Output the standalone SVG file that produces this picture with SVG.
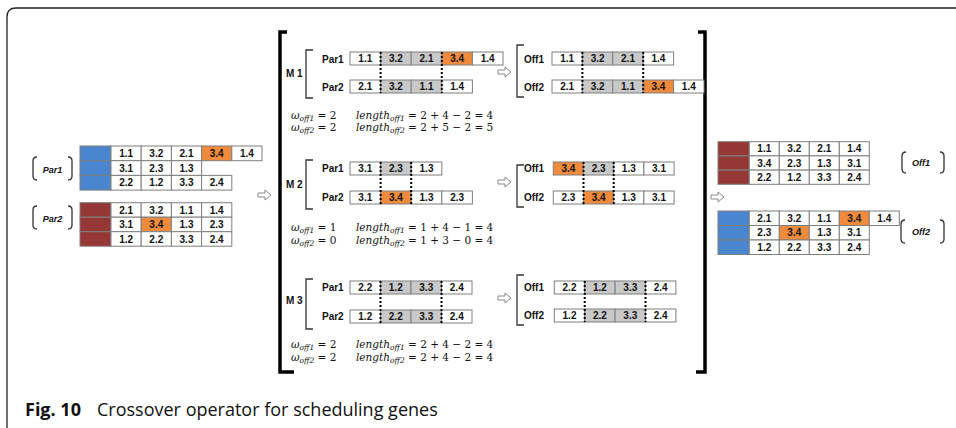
<svg xmlns="http://www.w3.org/2000/svg" width="956" height="428" viewBox="0 0 956 428">
<style>
.c{fill:#fff;stroke:#7f7f7f;stroke-width:1}
.g{fill:#c9c9c9;stroke:#7f7f7f;stroke-width:1}
.o{fill:#f08a3c;stroke:#7f7f7f;stroke-width:1}
.b{fill:#4a86cf;stroke:#7f7f7f;stroke-width:1}
.r{fill:#953735;stroke:#7f7f7f;stroke-width:1}
.t{font-family:"Liberation Sans",Arial,sans-serif;font-weight:bold;font-size:10px;text-anchor:middle;fill:#111}
.l{font-family:"Liberation Sans",Arial,sans-serif;font-weight:bold;font-size:10px;fill:#111}
.il{font-family:"Liberation Sans",Arial,sans-serif;font-weight:bold;font-style:italic;font-size:9px;text-anchor:middle;fill:#111}
.dot{stroke:#000;stroke-width:2;stroke-dasharray:2 2;fill:none}
.br{fill:none;stroke:#333;stroke-width:1.3}
.big{fill:none;stroke:#000;stroke-width:3.5}
.arr{fill:#fff;stroke:#8a8a8a;stroke-width:1}
.f{font-family:"DejaVu Serif","Liberation Serif",serif;font-size:10.5px;fill:#111}
.fi{font-style:italic}
.sub{font-size:7.5px;font-style:italic}
.cap{font-family:"Open Sans","Noto Sans",sans-serif;font-size:18px;fill:#111}
</style>
<defs>
<path id="ha" d="M0,-2 h7 v-3 l6,5 l-6,5 v-3 h-7 z"/>
</defs>

<path d="M7,440 V17 Q7,8 16,8 H960" fill="none" stroke="#222" stroke-width="1.3"/>

<g id="brackets-main">
<path class="big" d="M287,32 H280 V372 H294"/>
<path class="big" d="M698,32 H705 V372 H696"/>
</g>

<!-- Left parents -->
<g id="par1-left">
<path class="br" d="M37,157 Q33,157 33,161 V176 Q33,180 37,180"/>
<path class="br" d="M68,157 Q72,157 72,161 V176 Q72,180 68,180"/>
<text class="il" x="52.5" y="172.5">Par1</text>
<rect class="b" x="80" y="146" width="31" height="14.7"/>
<rect class="b" x="80" y="160.7" width="31" height="14.7"/>
<rect class="b" x="80" y="175.4" width="31" height="14.7"/>
<rect class="c" x="111" y="146" width="30.2" height="14.7"/><text class="t" x="126.1" y="157">1.1</text>
<rect class="c" x="141.2" y="146" width="30.2" height="14.7"/><text class="t" x="156.3" y="157">3.2</text>
<rect class="c" x="171.4" y="146" width="30.2" height="14.7"/><text class="t" x="186.5" y="157">2.1</text>
<rect class="o" x="201.6" y="146" width="30.2" height="14.7"/><text class="t" x="216.7" y="157">3.4</text>
<rect class="c" x="231.8" y="146" width="30.2" height="14.7"/><text class="t" x="246.9" y="157">1.4</text>
<rect class="c" x="111" y="160.7" width="30.2" height="14.7"/><text class="t" x="126.1" y="171.7">3.1</text>
<rect class="c" x="141.2" y="160.7" width="30.2" height="14.7"/><text class="t" x="156.3" y="171.7">2.3</text>
<rect class="c" x="171.4" y="160.7" width="30.2" height="14.7"/><text class="t" x="186.5" y="171.7">1.3</text>
<rect class="c" x="111" y="175.4" width="30.2" height="14.7"/><text class="t" x="126.1" y="186.4">2.2</text>
<rect class="c" x="141.2" y="175.4" width="30.2" height="14.7"/><text class="t" x="156.3" y="186.4">1.2</text>
<rect class="c" x="171.4" y="175.4" width="30.2" height="14.7"/><text class="t" x="186.5" y="186.4">3.3</text>
<rect class="c" x="201.6" y="175.4" width="30.2" height="14.7"/><text class="t" x="216.7" y="186.4">2.4</text>
</g>

<g id="par2-left">
<path class="br" d="M37,206 Q33,206 33,210 V225 Q33,229 37,229"/>
<path class="br" d="M68,206 Q72,206 72,210 V225 Q72,229 68,229"/>
<text class="il" x="52.5" y="221.5">Par2</text>
<rect class="r" x="80" y="202.7" width="31" height="14.5"/>
<rect class="r" x="80" y="217.2" width="31" height="14.5"/>
<rect class="r" x="80" y="231.7" width="31" height="14.5"/>
<rect class="c" x="111" y="202.7" width="30.2" height="14.5"/><text class="t" x="126.1" y="213.6">2.1</text>
<rect class="c" x="141.2" y="202.7" width="30.2" height="14.5"/><text class="t" x="156.3" y="213.6">3.2</text>
<rect class="c" x="171.4" y="202.7" width="30.2" height="14.5"/><text class="t" x="186.5" y="213.6">1.1</text>
<rect class="c" x="201.6" y="202.7" width="30.2" height="14.5"/><text class="t" x="216.7" y="213.6">1.4</text>
<rect class="c" x="111" y="217.2" width="30.2" height="14.5"/><text class="t" x="126.1" y="228.1">3.1</text>
<rect class="o" x="141.2" y="217.2" width="30.2" height="14.5"/><text class="t" x="156.3" y="228.1">3.4</text>
<rect class="c" x="171.4" y="217.2" width="30.2" height="14.5"/><text class="t" x="186.5" y="228.1">1.3</text>
<rect class="c" x="201.6" y="217.2" width="30.2" height="14.5"/><text class="t" x="216.7" y="228.1">2.3</text>
<rect class="c" x="111" y="231.7" width="30.2" height="14.5"/><text class="t" x="126.1" y="242.6">1.2</text>
<rect class="c" x="141.2" y="231.7" width="30.2" height="14.5"/><text class="t" x="156.3" y="242.6">2.2</text>
<rect class="c" x="171.4" y="231.7" width="30.2" height="14.5"/><text class="t" x="186.5" y="242.6">3.3</text>
<rect class="c" x="201.6" y="231.7" width="30.2" height="14.5"/><text class="t" x="216.7" y="242.6">2.4</text>
</g>

<!-- M1 -->
<g id="m1-parents">
<text class="l" x="286" y="76.5">M 1</text>
<path class="br" d="M313,50 H306 V98 H313"/>
<text class="l" x="322" y="62.5">Par1</text>
<text class="l" x="322" y="90.5">Par2</text>
<rect class="c" x="350" y="52" width="30.6" height="13"/><text class="t" x="365.3" y="62">1.1</text>
<rect class="g" x="380.6" y="52" width="30.6" height="13"/><text class="t" x="395.9" y="62">3.2</text>
<rect class="g" x="411.2" y="52" width="30.6" height="13"/><text class="t" x="426.5" y="62">2.1</text>
<rect class="o" x="441.8" y="52" width="30.6" height="13"/><text class="t" x="457.1" y="62">3.4</text>
<rect class="c" x="472.4" y="52" width="30.6" height="13"/><text class="t" x="487.7" y="62">1.4</text>
<rect class="c" x="350" y="80" width="30.6" height="13"/><text class="t" x="365.3" y="90">2.1</text>
<rect class="g" x="380.6" y="80" width="30.6" height="13"/><text class="t" x="395.9" y="90">3.2</text>
<rect class="g" x="411.2" y="80" width="30.6" height="13"/><text class="t" x="426.5" y="90">1.1</text>
<rect class="c" x="441.8" y="80" width="30.6" height="13"/><text class="t" x="457.1" y="90">1.4</text>
<text class="f" x="291" y="119"><tspan class="fi">ω</tspan><tspan class="sub" dy="1.5">off1</tspan><tspan dy="-1.5"> = 2</tspan></text>
<text class="f" x="356" y="119"><tspan class="fi">length</tspan><tspan class="sub" dy="1.5">off1</tspan><tspan dy="-1.5"> = 2 + 4 − 2 = 4</tspan></text>
<text class="f" x="291" y="131"><tspan class="fi">ω</tspan><tspan class="sub" dy="1.5">off2</tspan><tspan dy="-1.5"> = 2</tspan></text>
<text class="f" x="356" y="131"><tspan class="fi">length</tspan><tspan class="sub" dy="1.5">off2</tspan><tspan dy="-1.5"> = 2 + 5 − 2 = 5</tspan></text>
</g>
<g id="m1-offspring">
<path class="br" d="M524,45 H517 V97 H524"/>
<text class="l" x="524" y="62.5">Off1</text>
<text class="l" x="524" y="90.5">Off2</text>
<rect class="c" x="552" y="52" width="30.4" height="13"/><text class="t" x="567.2" y="62">1.1</text>
<rect class="g" x="582.4" y="52" width="30.4" height="13"/><text class="t" x="597.6" y="62">3.2</text>
<rect class="g" x="612.8" y="52" width="30.4" height="13"/><text class="t" x="628" y="62">2.1</text>
<rect class="c" x="643.2" y="52" width="30.4" height="13"/><text class="t" x="658.4" y="62">1.4</text>
<rect class="c" x="552" y="80" width="30.4" height="13"/><text class="t" x="567.2" y="90">2.1</text>
<rect class="g" x="582.4" y="80" width="30.4" height="13"/><text class="t" x="597.6" y="90">3.2</text>
<rect class="g" x="612.8" y="80" width="30.4" height="13"/><text class="t" x="628" y="90">1.1</text>
<rect class="o" x="643.2" y="80" width="30.4" height="13"/><text class="t" x="658.4" y="90">3.4</text>
<rect class="c" x="673.6" y="80" width="30.4" height="13"/><text class="t" x="688.8" y="90">1.4</text>
</g>

<!-- M2 -->
<g id="m2-parents">
<text class="l" x="286" y="187.5">M 2</text>
<path class="br" d="M313,160 H306 V209 H313"/>
<text class="l" x="322" y="172">Par1</text>
<text class="l" x="322" y="201">Par2</text>
<rect class="c" x="350" y="162" width="30.6" height="13"/><text class="t" x="365.3" y="172">3.1</text>
<rect class="g" x="380.6" y="162" width="30.6" height="13"/><text class="t" x="395.9" y="172">2.3</text>
<rect class="c" x="411.2" y="162" width="30.6" height="13"/><text class="t" x="426.5" y="172">1.3</text>
<rect class="c" x="350" y="191" width="30.6" height="13"/><text class="t" x="365.3" y="201">3.1</text>
<rect class="o" x="380.6" y="191" width="30.6" height="13"/><text class="t" x="395.9" y="201">3.4</text>
<rect class="c" x="411.2" y="191" width="30.6" height="13"/><text class="t" x="426.5" y="201">1.3</text>
<rect class="c" x="441.8" y="191" width="30.6" height="13"/><text class="t" x="457.1" y="201">2.3</text>
<text class="f" x="291" y="231"><tspan class="fi">ω</tspan><tspan class="sub" dy="1.5">off1</tspan><tspan dy="-1.5"> = 1</tspan></text>
<text class="f" x="356" y="231"><tspan class="fi">length</tspan><tspan class="sub" dy="1.5">off1</tspan><tspan dy="-1.5"> = 1 + 4 − 1 = 4</tspan></text>
<text class="f" x="291" y="244"><tspan class="fi">ω</tspan><tspan class="sub" dy="1.5">off2</tspan><tspan dy="-1.5"> = 0</tspan></text>
<text class="f" x="356" y="244"><tspan class="fi">length</tspan><tspan class="sub" dy="1.5">off2</tspan><tspan dy="-1.5"> = 1 + 3 − 0 = 4</tspan></text>
</g>
<g id="m2-offspring">
<path class="br" d="M524,165 H517 V207 H524"/>
<text class="l" x="524" y="172">Off1</text>
<text class="l" x="524" y="201">Off2</text>
<rect class="o" x="553.3" y="162" width="30.2" height="13"/><text class="t" x="568.4" y="172">3.4</text>
<rect class="g" x="583.5" y="162" width="30.2" height="13"/><text class="t" x="598.6" y="172">2.3</text>
<rect class="c" x="613.7" y="162" width="30.2" height="13"/><text class="t" x="628.8" y="172">1.3</text>
<rect class="c" x="643.9" y="162" width="30.2" height="13"/><text class="t" x="659" y="172">3.1</text>
<rect class="c" x="553.3" y="191" width="30.2" height="13"/><text class="t" x="568.4" y="201">2.3</text>
<rect class="o" x="583.5" y="191" width="30.2" height="13"/><text class="t" x="598.6" y="201">3.4</text>
<rect class="c" x="613.7" y="191" width="30.2" height="13"/><text class="t" x="628.8" y="201">1.3</text>
<rect class="c" x="643.9" y="191" width="30.2" height="13"/><text class="t" x="659" y="201">3.1</text>
</g>

<!-- M3 -->
<g id="m3-parents">
<text class="l" x="286" y="303.5">M 3</text>
<path class="br" d="M313,279 H306 V329 H313"/>
<text class="l" x="322" y="291">Par1</text>
<text class="l" x="322" y="320">Par2</text>
<rect class="c" x="350" y="281" width="30.5" height="13"/><text class="t" x="365.25" y="291">2.2</text>
<rect class="g" x="380.5" y="281" width="30.5" height="13"/><text class="t" x="395.75" y="291">1.2</text>
<rect class="g" x="411" y="281" width="30.5" height="13"/><text class="t" x="426.25" y="291">3.3</text>
<rect class="c" x="441.5" y="281" width="30.5" height="13"/><text class="t" x="456.75" y="291">2.4</text>
<rect class="c" x="350" y="310" width="30.5" height="13"/><text class="t" x="365.25" y="320">1.2</text>
<rect class="g" x="380.5" y="310" width="30.5" height="13"/><text class="t" x="395.75" y="320">2.2</text>
<rect class="g" x="411" y="310" width="30.5" height="13"/><text class="t" x="426.25" y="320">3.3</text>
<rect class="c" x="441.5" y="310" width="30.5" height="13"/><text class="t" x="456.75" y="320">2.4</text>
<text class="f" x="291" y="348"><tspan class="fi">ω</tspan><tspan class="sub" dy="1.5">off1</tspan><tspan dy="-1.5"> = 2</tspan></text>
<text class="f" x="356" y="348"><tspan class="fi">length</tspan><tspan class="sub" dy="1.5">off1</tspan><tspan dy="-1.5"> = 2 + 4 − 2 = 4</tspan></text>
<text class="f" x="291" y="361"><tspan class="fi">ω</tspan><tspan class="sub" dy="1.5">off2</tspan><tspan dy="-1.5"> = 2</tspan></text>
<text class="f" x="356" y="361"><tspan class="fi">length</tspan><tspan class="sub" dy="1.5">off2</tspan><tspan dy="-1.5"> = 2 + 4 − 2 = 4</tspan></text>
</g>
<g id="m3-offspring">
<path class="br" d="M524,275 H517 V325 H524"/>
<text class="l" x="524" y="291">Off1</text>
<text class="l" x="524" y="319">Off2</text>
<rect class="c" x="554.3" y="281" width="30.4" height="13"/><text class="t" x="569.5" y="291">2.2</text>
<rect class="g" x="584.7" y="281" width="30.4" height="13"/><text class="t" x="599.9" y="291">1.2</text>
<rect class="g" x="615.1" y="281" width="30.4" height="13"/><text class="t" x="630.3" y="291">3.3</text>
<rect class="c" x="645.5" y="281" width="30.4" height="13"/><text class="t" x="660.7" y="291">2.4</text>
<rect class="c" x="554.3" y="309" width="30.4" height="13"/><text class="t" x="569.5" y="319">1.2</text>
<rect class="g" x="584.7" y="309" width="30.4" height="13"/><text class="t" x="599.9" y="319">2.2</text>
<rect class="g" x="615.1" y="309" width="30.4" height="13"/><text class="t" x="630.3" y="319">3.3</text>
<rect class="c" x="645.5" y="309" width="30.4" height="13"/><text class="t" x="660.7" y="319">2.4</text>
</g>

<!-- Right offspring -->
<g id="off1-right">
<rect class="r" x="718" y="141.7" width="31.3" height="14.2"/>
<rect class="r" x="718" y="155.9" width="31.3" height="14.2"/>
<rect class="r" x="718" y="170.1" width="31.3" height="14.2"/>
<rect class="c" x="749.3" y="141.7" width="30" height="14.2"/><text class="t" x="764.3" y="152.4">1.1</text>
<rect class="c" x="779.3" y="141.7" width="30" height="14.2"/><text class="t" x="794.3" y="152.4">3.2</text>
<rect class="c" x="809.3" y="141.7" width="30" height="14.2"/><text class="t" x="824.3" y="152.4">2.1</text>
<rect class="c" x="839.3" y="141.7" width="30" height="14.2"/><text class="t" x="854.3" y="152.4">1.4</text>
<rect class="c" x="749.3" y="155.9" width="30" height="14.2"/><text class="t" x="764.3" y="166.6">3.4</text>
<rect class="c" x="779.3" y="155.9" width="30" height="14.2"/><text class="t" x="794.3" y="166.6">2.3</text>
<rect class="c" x="809.3" y="155.9" width="30" height="14.2"/><text class="t" x="824.3" y="166.6">1.3</text>
<rect class="c" x="839.3" y="155.9" width="30" height="14.2"/><text class="t" x="854.3" y="166.6">3.1</text>
<rect class="c" x="749.3" y="170.1" width="30" height="14.2"/><text class="t" x="764.3" y="180.8">2.2</text>
<rect class="c" x="779.3" y="170.1" width="30" height="14.2"/><text class="t" x="794.3" y="180.8">1.2</text>
<rect class="c" x="809.3" y="170.1" width="30" height="14.2"/><text class="t" x="824.3" y="180.8">3.3</text>
<rect class="c" x="839.3" y="170.1" width="30" height="14.2"/><text class="t" x="854.3" y="180.8">2.4</text>
<path class="br" d="M906,152 Q902,152 902,156 V169 Q902,173 906,173"/>
<path class="br" d="M940,152 Q944,152 944,156 V169 Q944,173 940,173"/>
<text class="il" x="921" y="166">Off1</text>
</g>

<g id="off2-right">
<rect class="b" x="718" y="211" width="31.3" height="14.5"/>
<rect class="b" x="718" y="225.5" width="31.3" height="14.5"/>
<rect class="b" x="718" y="240" width="31.3" height="14.5"/>
<rect class="c" x="749.3" y="211" width="30" height="14.5"/><text class="t" x="764.3" y="221.9">2.1</text>
<rect class="c" x="779.3" y="211" width="30" height="14.5"/><text class="t" x="794.3" y="221.9">3.2</text>
<rect class="c" x="809.3" y="211" width="30" height="14.5"/><text class="t" x="824.3" y="221.9">1.1</text>
<rect class="o" x="839.3" y="211" width="30" height="14.5"/><text class="t" x="854.3" y="221.9">3.4</text>
<rect class="c" x="869.3" y="211" width="30" height="14.5"/><text class="t" x="884.3" y="221.9">1.4</text>
<rect class="c" x="749.3" y="225.5" width="30" height="14.5"/><text class="t" x="764.3" y="236.4">2.3</text>
<rect class="o" x="779.3" y="225.5" width="30" height="14.5"/><text class="t" x="794.3" y="236.4">3.4</text>
<rect class="c" x="809.3" y="225.5" width="30" height="14.5"/><text class="t" x="824.3" y="236.4">1.3</text>
<rect class="c" x="839.3" y="225.5" width="30" height="14.5"/><text class="t" x="854.3" y="236.4">3.1</text>
<rect class="c" x="749.3" y="240" width="30" height="14.5"/><text class="t" x="764.3" y="250.9">1.2</text>
<rect class="c" x="779.3" y="240" width="30" height="14.5"/><text class="t" x="794.3" y="250.9">2.2</text>
<rect class="c" x="809.3" y="240" width="30" height="14.5"/><text class="t" x="824.3" y="250.9">3.3</text>
<rect class="c" x="839.3" y="240" width="30" height="14.5"/><text class="t" x="854.3" y="250.9">2.4</text>
<path class="br" d="M905,220 Q901,220 901,224 V239 Q901,243 905,243"/>
<path class="br" d="M940,220 Q944,220 944,224 V239 Q944,243 940,243"/>
<text class="il" x="921" y="235">Off2</text>
</g>

<g id="connectors">
<path class="dot" d="M380.6,52 V93 M441.8,52 V93"/>
<path class="dot" d="M582.4,52 V93 M643.2,52 V93"/>
<path class="dot" d="M380.6,162 V204 M411.2,162 V204"/>
<path class="dot" d="M583.5,162 V204 M613.7,162 V204"/>
<path class="dot" d="M380.5,281 V323 M441.5,281 V323"/>
<path class="dot" d="M584.7,281 V322 M645.5,281 V322"/>
<use href="#ha" class="arr" x="258" y="195"/>
<use href="#ha" class="arr" x="498" y="72"/>
<use href="#ha" class="arr" x="498" y="182"/>
<use href="#ha" class="arr" x="498" y="298"/>
<use href="#ha" class="arr" x="711" y="197"/>
</g>

<text class="cap" x="25" y="416"><tspan font-weight="bold">Fig. 10</tspan><tspan x="97">Crossover operator for scheduling genes</tspan></text>
</svg>
